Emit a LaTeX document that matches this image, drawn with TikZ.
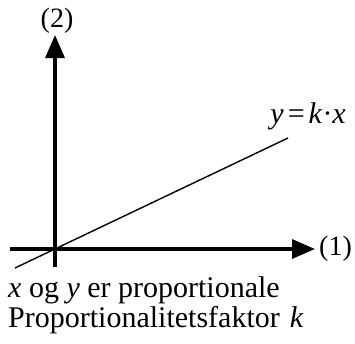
\documentclass[tikz,border=0pt]{standalone}
\usepackage{fontspec}
\setmainfont{Liberation Serif}
\usetikzlibrary{arrows.meta}
\begin{document}
\begin{tikzpicture}[x=1pt,y=-1pt,
  axis/.style={line width=3.2pt,-{Triangle[length=23pt,width=19pt]}},
  graphline/.style={line width=1.4pt},
  lbl/.style={font=\fontsize{30}{34}\selectfont,inner sep=0pt},
  axlbl/.style={font=\fontsize{28}{32}\selectfont,inner sep=0pt}]
\useasboundingbox (0,0) rectangle (355,343);
\coordinate (xs) at (10,249);
\coordinate (xe) at (315,249);
\coordinate (ys) at (55,267);
\coordinate (ye) at (55,35);
\coordinate (ls) at (15,268);
\coordinate (le) at (288,138);
\draw[axis] (xs) -- (xe);
\draw[axis] (ys) -- (ye);
\draw[graphline] (ls) -- (le);
\node[axlbl,anchor=west] (l1) at (319,249) {(1)};
\node[axlbl] (l2) at (57,21) {(2)};
\node[lbl,anchor=base east] (eq) at (346,123) {\textit{y}\hspace{4pt}=\hspace{4pt}\textit{k}·\textit{x}};
\node[lbl,anchor=base west] (t1) at (8,297) {\textit{x} og \textit{y} er proportionale};
\node[lbl,anchor=base west] (t2) at (8,327) {Proportionalitetsfaktor\hspace{10pt}\textit{k}};
\end{tikzpicture}
\end{document}
